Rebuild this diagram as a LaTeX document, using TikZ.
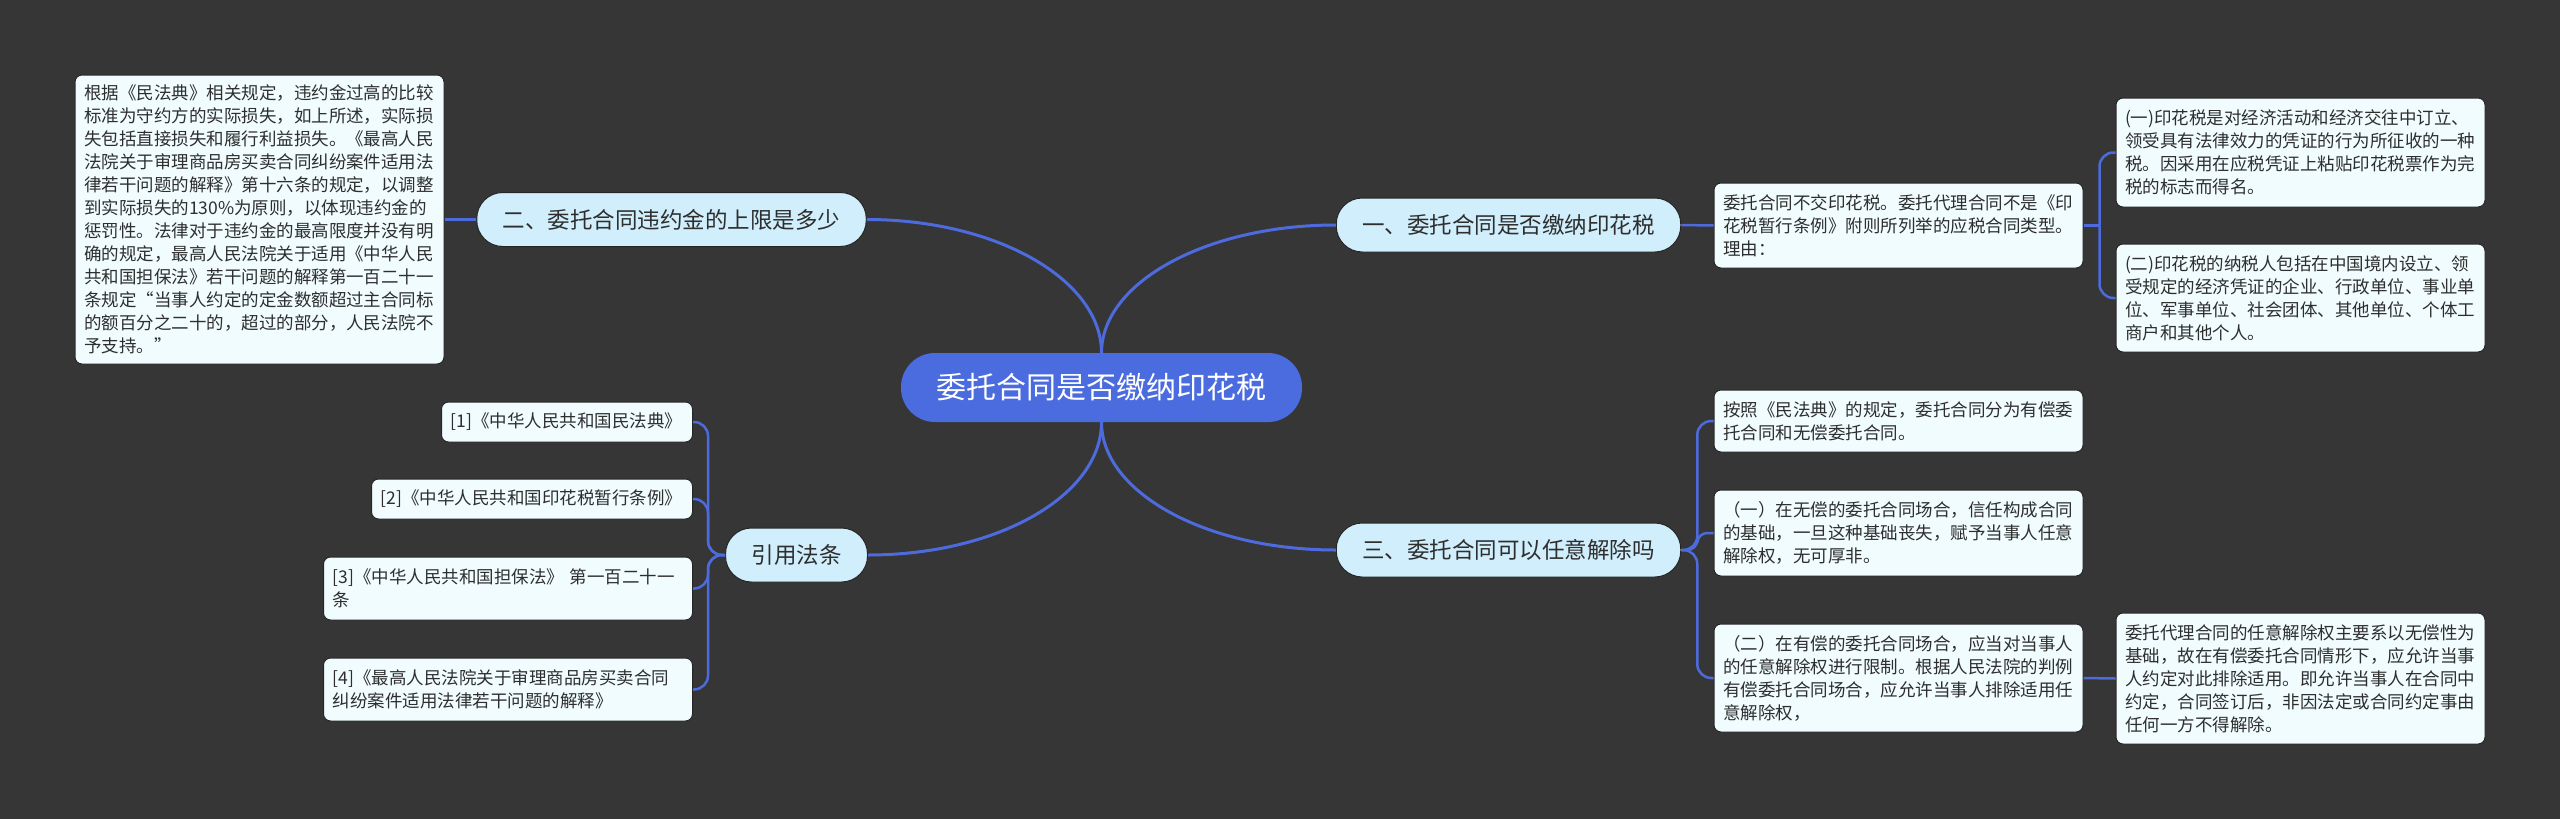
\documentclass[tikz,border=0pt]{standalone}
\usepackage{fontspec}
\setmainfont{Noto Sans CJK SC}
\definecolor{bgc}{HTML}{363636}
\definecolor{rootc}{HTML}{4B6CDF}
\definecolor{brc}{HTML}{D0EEFB}
\definecolor{leafc}{HTML}{F0FCFE}
\definecolor{linec}{HTML}{4D6BDD}
\definecolor{edgec}{HTML}{262626}
\definecolor{txtc}{HTML}{2E2E2E}
\begin{document}
\begin{tikzpicture}[x=1pt,y=-1pt,
  root/.style={fill=rootc, rounded corners=34pt, minimum height=69pt, minimum width=401pt, inner sep=0pt, font=\fontsize{30}{36}\selectfont, text=white},
  branch/.style={fill=brc, draw=edgec, line width=1pt, rounded corners=26pt, minimum height=54pt, inner xsep=26pt, inner ysep=0pt, font=\fontsize{22.5}{27}\selectfont, text=txtc},
  leaf/.style={fill=leafc, draw=edgec, line width=1pt, rounded corners=7pt, inner xsep=9pt, inner ysep=0pt, align=left, font=\fontsize{17.5}{23}\selectfont, text=txtc},
  link/.style={draw=linec, line width=3pt},
  sublink/.style={draw=linec, line width=2.5pt}]
\fill[bgc] (0,0) rectangle (2560,819);
\useasboundingbox (0,0) rectangle (2560,819);

% root and branches
\node[root] (root) at (1101.5,387.5) {委托合同是否缴纳印花税};
\node[branch] (b2) at (671.5,219.5) {二、委托合同违约金的上限是多少};
\node[branch] (b1) at (1508.5,225) {一、委托合同是否缴纳印花税};
\node[branch] (b3) at (1508.5,550) {三、委托合同可以任意解除吗};
\node[branch] (b4) at (796.5,555) {引用法条};

% leaves
\node[leaf, text width=351pt, minimum height=289pt] (L) at (259.5,219.5) {根据《民法典》相关规定，违约金过高的比较\\标准为守约方的实际损失，如上所述，实际损\\失包括直接损失和履行利益损失。《最高人民\\法院关于审理商品房买卖合同纠纷案件适用法\\律若干问题的解释》第十六条的规定，以调整\\到实际损失的130\%为原则，以体现违约金的\\惩罚性。法律对于违约金的最高限度并没有明\\确的规定，最高人民法院关于适用《中华人民\\共和国担保法》若干问题的解释第一百二十一\\条规定“当事人约定的定金数额超过主合同标\\的额百分之二十的，超过的部分，人民法院不\\予支持。”};

\node[leaf, text width=351pt, minimum height=85pt] (R0) at (1898.5,225.5) {委托合同不交印花税。委托代理合同不是《印\\花税暂行条例》附则所列举的应税合同类型。\\理由：};
\node[leaf, text width=351pt, minimum height=109pt] (R1) at (2300.5,152.5) {(一)印花税是对经济活动和经济交往中订立、\\领受具有法律效力的凭证的行为所征收的一种\\税。因采用在应税凭证上粘贴印花税票作为完\\税的标志而得名。};
\node[leaf, text width=351pt, minimum height=108pt] (R2) at (2300.5,298) {(二)印花税的纳税人包括在中国境内设立、领\\受规定的经济凭证的企业、行政单位、事业单\\位、军事单位、社会团体、其他单位、个体工\\商户和其他个人。};

\node[leaf, text width=351pt, minimum height=62pt] (A) at (1898.5,421) {按照《民法典》的规定，委托合同分为有偿委\\托合同和无偿委托合同。};
\node[leaf, text width=351pt, minimum height=86pt] (B) at (1898.5,533) {（一）在无偿的委托合同场合，信任构成合同\\的基础，一旦这种基础丧失，赋予当事人任意\\解除权，无可厚非。};
\node[leaf, text width=351pt, minimum height=108pt] (C) at (1898.5,678) {（二）在有偿的委托合同场合，应当对当事人\\的任意解除权进行限制。根据人民法院的判例\\有偿委托合同场合，应允许当事人排除适用任\\意解除权，};
\node[leaf, text width=351pt, minimum height=131pt] (D) at (2300.5,678.5) {委托代理合同的任意解除权主要系以无偿性为\\基础，故在有偿委托合同情形下，应允许当事\\人约定对此排除适用。即允许当事人在合同中\\约定，合同签订后，非因法定或合同约定事由\\任何一方不得解除。};

\node[leaf, text width=233pt, minimum height=40pt, anchor=east] (r1) at (693,422) {[1]《中华人民共和国民法典》};
\node[leaf, text width=303pt, minimum height=40pt, anchor=east] (r2) at (693,499) {[2]《中华人民共和国印花税暂行条例》};
\node[leaf, text width=351pt, minimum height=63pt, anchor=east] (r3) at (693,588.5) {[3]《中华人民共和国担保法》 第一百二十一\\条};
\node[leaf, text width=351pt, minimum height=63pt, anchor=east] (r4) at (693,689.5) {[4]《最高人民法院关于审理商品房买卖合同\\纠纷案件适用法律若干问题的解释》};

% main connectors
\draw[link] (root.north) .. controls +(0,-73) and +(130,0) .. (b2.east);
\draw[link] (root.north) .. controls +(0,-70) and +(-130,0) .. (b1.west);
\draw[link] (root.south) .. controls +(0,73) and +(130,0) .. (b4.east);
\draw[link] (root.south) .. controls +(0,70) and +(-130,0) .. (b3.west);

% sub connectors
\draw[sublink] (b2.west) -- (L.east);
\draw[sublink] (b1.east) -- (R0.west);
\draw[sublink] (R0.east) -- ++(16,0) coordinate (j1);
\draw[sublink, rounded corners=14pt] (j1) |- (R1.west);
\draw[sublink, rounded corners=14pt] (j1) |- (R2.west);

\draw[sublink, rounded corners=14pt] (b3.east) -- ++(16,0) |- (A.west);
\draw[sublink, rounded corners=10pt] (b3.east) -- ++(16,0) |- (B.west);
\draw[sublink, rounded corners=14pt] (b3.east) -- ++(16,0) |- (C.west);
\draw[sublink] (C.east) -- (D.west);

\draw[sublink, rounded corners=14pt] (b4.west) -- ++(-17,0) |- (r1.east);
\draw[sublink, rounded corners=14pt] (b4.west) -- ++(-17,0) |- (r2.east);
\draw[sublink, rounded corners=14pt] (b4.west) -- ++(-17,0) |- (r3.east);
\draw[sublink, rounded corners=14pt] (b4.west) -- ++(-17,0) |- (r4.east);
\end{tikzpicture}
\end{document}
